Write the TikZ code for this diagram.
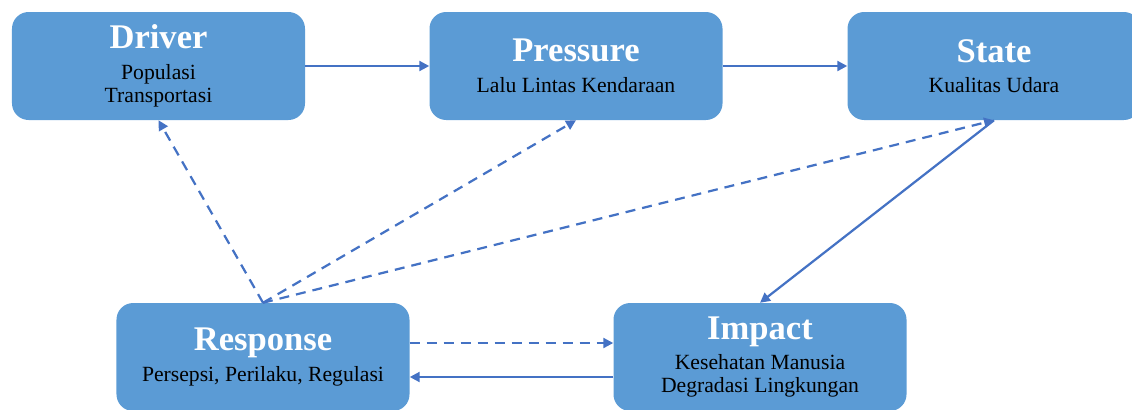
\documentclass[tikz,border=0pt]{standalone}
\usepackage{fontspec}
\setmainfont{Liberation Serif}
\usetikzlibrary{arrows.meta}
\definecolor{boxblue}{HTML}{5B9BD5}
\definecolor{arrowblue}{HTML}{4472C4}
\newcommand{\subfont}{\fontsize{18.5}{20}\selectfont}
\newcommand{\boxtitle}[1]{{\fontsize{29.5}{30}\selectfont\bfseries\color{white}#1}}
\tikzset{
  dpsirbox/.style={rectangle,rounded corners=.5cm,fill=boxblue,minimum width=8.79cm,minimum height=3.24cm,align=center,font=\subfont,text=black,inner sep=0pt},
  flow/.style={draw=arrowblue,line width=1.9pt,-{Triangle[length=8.5pt,width=8.5pt]}},
  feedback/.style={flow,dash pattern=on 8.5pt off 6pt}
}
\begin{document}
\begin{tikzpicture}[x=.03cm,y=-.03cm]
  \useasboundingbox (0,0) rectangle (1132,409);
  % boxes
  \node[dpsirbox] (driver) at (158.5,66) {\boxtitle{Driver}\\[6pt]Populasi\\Transportasi};
  \node[dpsirbox] (pressure) at (576,66) {\boxtitle{Pressure}\\[6pt]Lalu Lintas Kendaraan};
  \node[dpsirbox] (state) at (994,66) {\boxtitle{State}\\[6pt]Kualitas Udara};
  \node[dpsirbox] (response) at (263,357) {\boxtitle{Response}\\[6pt]Persepsi, Perilaku, Regulasi};
  \node[dpsirbox] (impact) at (760,357) {\boxtitle{Impact}\\[6pt]Kesehatan Manusia\\Degradasi Lingkungan};
  % main chain
  \draw[flow] (driver) -- (pressure);
  \draw[flow] (pressure) -- (state);
  \draw[flow] (state.south) -- (impact.north);
  \draw[flow] ([yshift=-.6cm]impact.west) -- ([yshift=-.6cm]response.east);
  % responses
  \draw[feedback] ([yshift=.42cm]response.east) -- ([yshift=.42cm]impact.west);
  \draw[feedback] (response.north) -- (driver.south);
  \draw[feedback] (response.north) -- (pressure.south);
  \draw[feedback] (response.north) -- (state.south);
\end{tikzpicture}
\end{document}
